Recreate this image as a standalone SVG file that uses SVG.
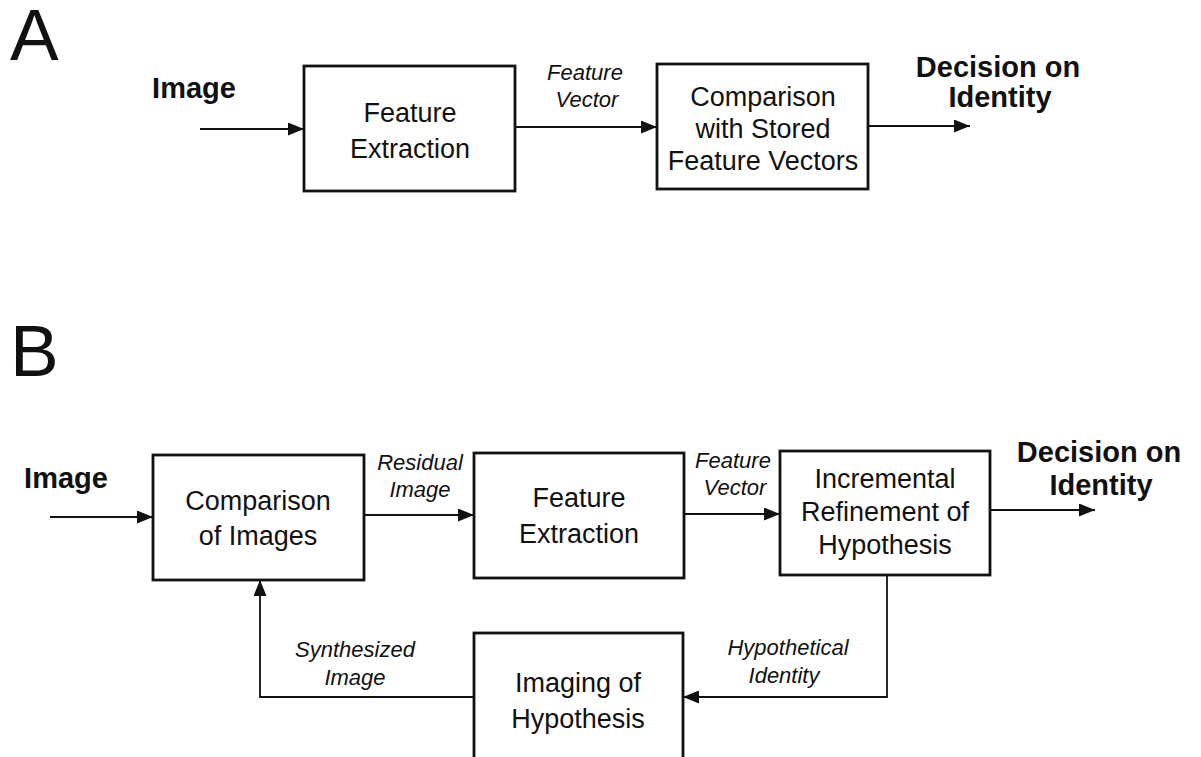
<svg xmlns="http://www.w3.org/2000/svg" width="1201" height="757" viewBox="0 0 1201 757">
  <style>
    .box { fill: #fff; stroke: #111; stroke-width: 2.8; }
    .wire { fill: none; stroke: #111; stroke-width: 1.8; }
    .txt { font-family: "Liberation Sans", Arial, sans-serif; font-size: 27px; fill: #111; text-anchor: middle; }
    .lbl { font-family: "Liberation Sans", Arial, sans-serif; font-size: 22px; font-style: italic; fill: #111; text-anchor: middle; }
    .io { font-family: "Liberation Sans", Arial, sans-serif; font-size: 29px; font-weight: bold; fill: #111; text-anchor: middle; }
    .panel { font-family: "Liberation Sans", Arial, sans-serif; font-size: 73px; fill: #111; }
  </style>
  <defs>
    <marker id="arrow" viewBox="0 0 16 13" refX="16" refY="6.5" markerWidth="16" markerHeight="13" markerUnits="userSpaceOnUse" orient="auto">
      <path d="M0,0 L16,6.5 L0,13 Z" fill="#111"/>
    </marker>
  </defs>
  <rect width="1201" height="757" fill="#fff"/>

  <!-- Panel A: single-pass recognition -->
  <text class="panel" x="10" y="60">A</text>
  <text class="io" x="194" y="98">Image</text>
  <text class="io" x="998" y="77">Decision on</text>
  <text class="io" x="1000" y="107">Identity</text>
  <text class="lbl" x="585" y="80">Feature</text>
  <text class="lbl" x="587" y="107">Vector</text>

  <g id="a-extraction">
    <rect class="box" x="304" y="66" width="211" height="125"/>
    <text class="txt" x="410" y="122">Feature</text>
    <text class="txt" x="410" y="158">Extraction</text>
  </g>
  <g id="a-comparison">
    <rect class="box" x="657" y="64" width="211" height="125"/>
    <text class="txt" x="763" y="106">Comparison</text>
    <text class="txt" x="763" y="138">with Stored</text>
    <text class="txt" x="763" y="170">Feature Vectors</text>
  </g>

  <!-- Panel B: analysis-by-synthesis loop -->
  <text class="panel" x="10" y="376">B</text>
  <text class="io" x="66" y="488">Image</text>
  <text class="io" x="1099" y="462">Decision on</text>
  <text class="io" x="1101" y="495">Identity</text>
  <text class="lbl" x="420" y="470">Residual</text>
  <text class="lbl" x="420" y="497">Image</text>
  <text class="lbl" x="733" y="468">Feature</text>
  <text class="lbl" x="735" y="495">Vector</text>
  <text class="lbl" x="788" y="655">Hypothetical</text>
  <text class="lbl" x="784" y="683">Identity</text>
  <text class="lbl" x="355" y="657">Synthesized</text>
  <text class="lbl" x="355" y="685">Image</text>

  <g id="b-comparison">
    <rect class="box" x="153" y="455" width="211" height="125"/>
    <text class="txt" x="258" y="510">Comparison</text>
    <text class="txt" x="258" y="545">of Images</text>
  </g>
  <g id="b-extraction">
    <rect class="box" x="474" y="453" width="210" height="125"/>
    <text class="txt" x="579" y="507">Feature</text>
    <text class="txt" x="579" y="543">Extraction</text>
  </g>
  <g id="b-refinement">
    <rect class="box" x="780" y="451" width="210" height="124"/>
    <text class="txt" x="885" y="488">Incremental</text>
    <text class="txt" x="885" y="521">Refinement of</text>
    <text class="txt" x="885" y="554">Hypothesis</text>
  </g>
  <g id="b-imaging">
    <rect class="box" x="474" y="633" width="209" height="140"/>
    <text class="txt" x="578" y="692">Imaging of</text>
    <text class="txt" x="578" y="728">Hypothesis</text>
  </g>

  <!-- Connectors -->
  <g id="connectors">
    <line class="wire" x1="200" y1="129" x2="304" y2="129" marker-end="url(#arrow)"/>
    <line class="wire" x1="515" y1="127" x2="657" y2="127" marker-end="url(#arrow)"/>
    <line class="wire" x1="868" y1="126" x2="970" y2="126" marker-end="url(#arrow)"/>

    <line class="wire" x1="50" y1="517" x2="153" y2="517" marker-end="url(#arrow)"/>
    <line class="wire" x1="364" y1="515" x2="474" y2="515" marker-end="url(#arrow)"/>
    <line class="wire" x1="684" y1="514" x2="780" y2="514" marker-end="url(#arrow)"/>
    <line class="wire" x1="990" y1="510" x2="1095" y2="510" marker-end="url(#arrow)"/>
    <polyline class="wire" points="887,575 887,697 683,697" marker-end="url(#arrow)"/>
    <polyline class="wire" points="474,697 260,697 260,580" marker-end="url(#arrow)"/>
  </g>
</svg>
